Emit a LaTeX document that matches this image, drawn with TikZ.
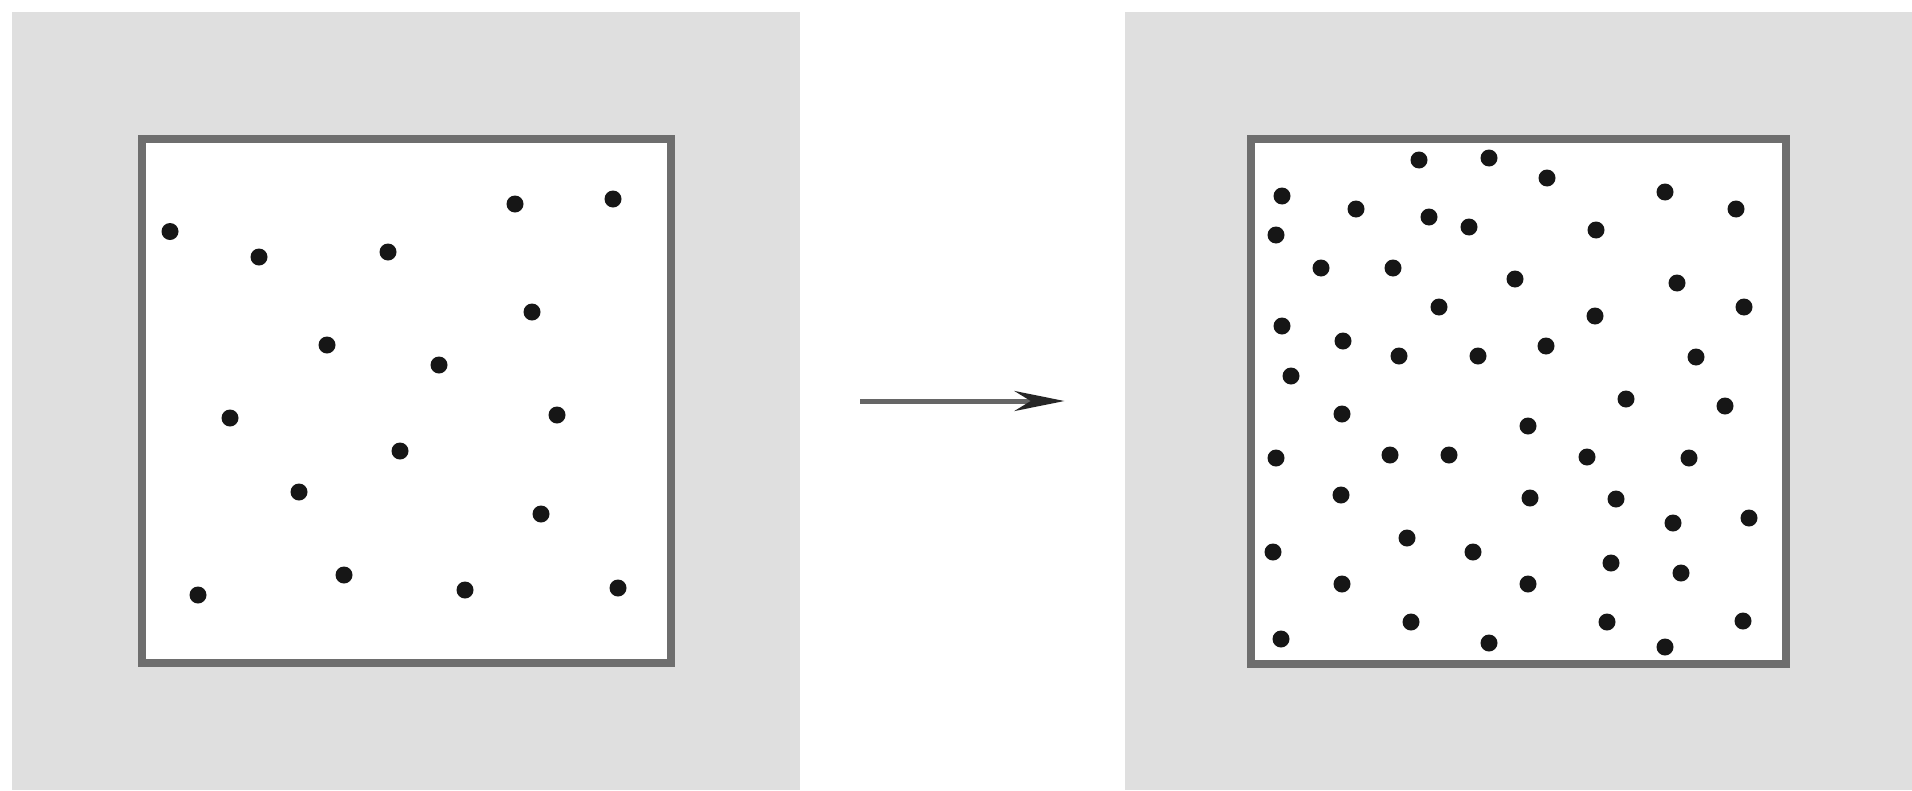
\documentclass[tikz,border=0pt]{standalone}
\usetikzlibrary{arrows.meta}
\definecolor{panelgray}{RGB}{223,223,223}
\definecolor{framegray}{RGB}{110,110,110}
\definecolor{dotblack}{RGB}{22,22,22}
\begin{document}
\begin{tikzpicture}[>={Stealth[length=5mm,width=2mm,color=black!85]},
  panel/.style={fill=panelgray,draw=none,inner sep=0pt,outer sep=0pt,
    minimum width=7.88cm,minimum height=7.78cm},
  frame/.style={fill=white,draw=framegray,line width=0.08cm,inner sep=0pt},
  flow/.style={->,draw=black!60,line width=0.05cm,shorten <=0.6cm,shorten >=0.6cm},
  particle/.style={fill=dotblack}]
  \useasboundingbox (0,0) rectangle (19.12,7.90);

  \node[panel] (before) at (4.06,3.89) {};
  \node[panel] (after) at (15.185,3.89) {};

  \begin{scope}
    \node[frame,minimum width=5.29cm,minimum height=5.24cm] (boxA) at (before.center) {};
    \foreach \x/\y in {1.70/5.585,2.59/5.33,3.88/5.38,5.15/5.86,6.13/5.91,
      5.32/4.78,3.27/4.45,4.39/4.25,2.30/3.72,5.57/3.75,4.00/3.39,2.99/2.98,
      5.41/2.76,3.44/2.15,1.98/1.95,4.65/2.00,6.18/2.02}
      \fill[particle] (\x,\y) circle (0.085);
  \end{scope}

  \draw[flow] (before.east) -- (after.west);

  \begin{scope}
    \node[frame,minimum width=5.35cm,minimum height=5.25cm] (boxB) at (after.center) {};
    \foreach \x/\y in {14.19/6.30,14.89/6.32,15.47/6.12,12.82/5.94,13.56/5.81,
      14.29/5.73,14.69/5.63,16.65/5.98,17.36/5.81,12.76/5.55,15.96/5.60,
      13.21/5.22,13.93/5.22,15.15/5.11,16.77/5.07,17.44/4.83,14.39/4.83,
      15.95/4.74,12.82/4.64,13.43/4.49,13.99/4.34,14.78/4.34,15.46/4.44,
      16.96/4.33,12.91/4.14,16.26/3.91,17.25/3.84,13.42/3.76,15.28/3.64,
      12.76/3.32,13.90/3.35,14.49/3.35,15.87/3.33,16.89/3.32,13.41/2.95,
      15.30/2.92,16.16/2.91,16.73/2.67,17.49/2.72,14.07/2.52,12.73/2.38,
      14.73/2.38,16.11/2.27,16.81/2.17,13.42/2.06,15.28/2.06,14.11/1.68,
      16.07/1.68,17.43/1.69,12.81/1.51,14.89/1.47,16.65/1.43}
      \fill[particle] (\x,\y) circle (0.085);
  \end{scope}
\end{tikzpicture}
\end{document}
